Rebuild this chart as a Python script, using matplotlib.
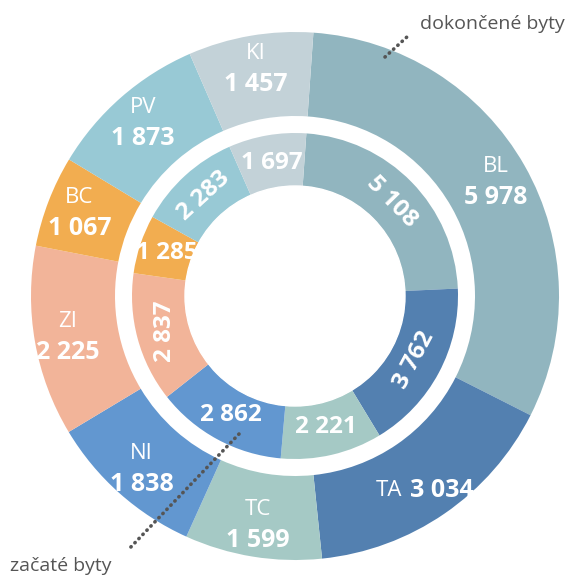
import numpy as np
import matplotlib
matplotlib.use('Agg')
import matplotlib.pyplot as plt
from matplotlib.patches import Circle

plt.rcParams['font.family'] = ['Open Sans', 'DejaVu Sans']

# data
kraje = ['BL', 'TA', 'TC', 'NI', 'ZI', 'BC', 'PV', 'KI']
dokoncene = [5978, 3034, 1599, 1838, 2225, 1067, 1873, 1457]
zacate = [5108, 3762, 2221, 2862, 2837, 1285, 2283, 1697]
farby = ['#91b5bf', '#5380b0', '#a5c9c5', '#6297d0',
         '#f2b499', '#f2ad50', '#98c9d5', '#c3d2d8']

# natocenie popisov vnutorneho kruhu ('t' = pozdlz kruhu)
rot_vnutro = ['t', 't', 0, 0, 90, 0, 't', 0]

W = 577
cx, cy = 295, W - 296
R_out, R_out_in = 264, 180
R_in, R_in_in = 163, 110


def fmt(v):
    return f"{v:,}".replace(',', ' ')


fig = plt.figure(figsize=(5.77, 5.77), dpi=100)
ax = fig.add_axes([0, 0, 1, 1])

w_out, _ = ax.pie(dokoncene, colors=farby, radius=R_out, center=(cx, cy),
                  startangle=86, counterclock=False,
                  wedgeprops=dict(width=R_out - R_out_in, edgecolor='none'))
w_in, _ = ax.pie(zacate, colors=farby, radius=R_in, center=(cx, cy),
                 startangle=86, counterclock=False,
                 wedgeprops=dict(width=R_in - R_in_in, edgecolor='none'))

ax.set_aspect('equal', adjustable='box')
ax.set_xlim(0, W)
ax.set_ylim(0, W)
ax.axis('off')

# popisy vonkajsieho kruhu
r_lab = 231
for w, k, v in zip(w_out, kraje, dokoncene):
    a = np.deg2rad((w.theta1 + w.theta2) / 2)
    x = cx + r_lab * np.cos(a)
    y = cy + r_lab * np.sin(a)
    if k == 'TA':
        y -= 4
        ax.text(x - 24, y, k, ha='right', va='center', color='white',
                fontsize=16, zorder=5)
        ax.text(x - 16, y, fmt(v), ha='left', va='center', color='white',
                fontsize=18, fontweight='bold', zorder=5)
    else:
        ax.text(x, y + 15, k, ha='center', va='center', color='white',
                fontsize=16, zorder=5)
        ax.text(x, y - 16, fmt(v), ha='center', va='center', color='white',
                fontsize=18, fontweight='bold', zorder=5)

# popisy vnutorneho kruhu
r_lab2 = 135
for w, v, rot in zip(w_in, zacate, rot_vnutro):
    mid = (w.theta1 + w.theta2) / 2
    a = np.deg2rad(mid)
    x = cx + r_lab2 * np.cos(a)
    y = cy + r_lab2 * np.sin(a)
    if rot == 't':
        rot = (mid - 90) % 360
        if 90 < rot < 270:
            rot -= 180
    ax.text(x, y, fmt(v), ha='center', va='center', color='white',
            fontsize=17.5, fontweight='bold', rotation=rot,
            rotation_mode='anchor', zorder=5)

# stred (oreze pretekajuce popisy)
ax.add_patch(Circle((cx, cy), R_in_in, color='white', zorder=10))

# legendy s bodkovanou ciarou
ax.plot([385, 408], [W - 57, W - 36], color='#555555', lw=2.6,
        linestyle=(0, (0.1, 1.5)), dash_capstyle='round', zorder=11)
ax.text(565, W - 24, 'dokončené byty', ha='right', va='center',
        color='#555555', fontsize=14)
ax.plot([239, 128], [W - 434, W - 550], color='#555555', lw=2.6,
        linestyle=(0, (0.1, 1.5)), dash_capstyle='round', zorder=11)
ax.text(10, W - 566, 'začaté byty', ha='left', va='center',
        color='#555555', fontsize=14)

fig.savefig('out.png', dpi=100)
